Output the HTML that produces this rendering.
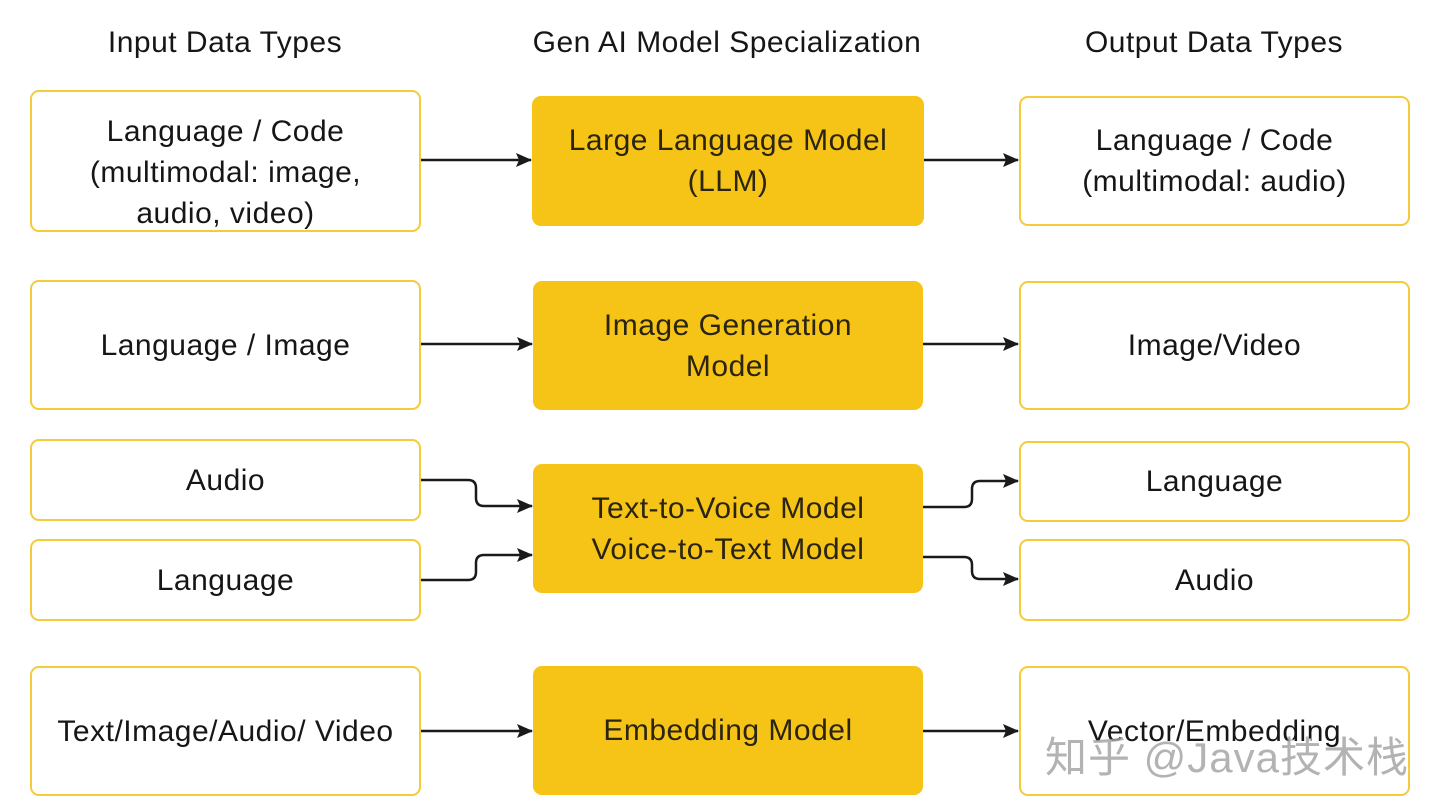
<!DOCTYPE html>
<html><head><meta charset="utf-8"><style>
body{margin:0;width:1440px;height:812px;background:#fff;position:relative;overflow:hidden;font-family:"Liberation Sans","Noto Sans CJK SC",sans-serif;color:#161616}
.h{position:absolute;top:26px;font-size:30px;text-align:center;width:500px;letter-spacing:0.5px}
.b{position:absolute;box-sizing:border-box;border:2px solid #f4cb3a;border-radius:9px;display:flex;align-items:center;justify-content:center;text-align:center;font-size:30px;line-height:41px;letter-spacing:0.5px;background:#fff}
.y{background:#f6c416;border:none;color:#2b2410}
svg{position:absolute;left:0;top:0}
.wm{position:absolute;left:1045px;top:724px;font-size:42px;color:rgba(160,160,160,0.8);letter-spacing:1px;text-shadow:2px 2px 0 rgba(255,255,255,.8)}
</style></head><body>
<div class="h" style="left:-25px">Input Data Types</div>
<div class="h" style="left:477px">Gen AI Model Specialization</div>
<div class="h" style="left:964px">Output Data Types</div>

<div class="b" style="left:30px;top:90px;width:391px;height:142px;padding-top:22px">Language / Code<br>(multimodal: image,<br>audio, video)</div>
<div class="b" style="left:30px;top:280px;width:391px;height:130px">Language / Image</div>
<div class="b" style="left:30px;top:439px;width:391px;height:82px">Audio</div>
<div class="b" style="left:30px;top:539px;width:391px;height:82px">Language</div>
<div class="b" style="left:30px;top:666px;width:391px;height:130px">Text/Image/Audio/ Video</div>

<div class="b y" style="left:532px;top:96px;width:392px;height:130px">Large Language Model<br>(LLM)</div>
<div class="b y" style="left:533px;top:281px;width:390px;height:129px">Image Generation<br>Model</div>
<div class="b y" style="left:533px;top:464px;width:390px;height:129px">Text-to-Voice Model<br>Voice-to-Text Model</div>
<div class="b y" style="left:533px;top:666px;width:390px;height:129px">Embedding Model</div>

<div class="b" style="left:1019px;top:96px;width:391px;height:130px">Language / Code<br>(multimodal: audio)</div>
<div class="b" style="left:1019px;top:281px;width:391px;height:129px">Image/Video</div>
<div class="b" style="left:1019px;top:441px;width:391px;height:81px">Language</div>
<div class="b" style="left:1019px;top:539px;width:391px;height:82px">Audio</div>
<div class="b" style="left:1019px;top:666px;width:391px;height:130px">Vector/Embedding</div>

<svg width="1440" height="812">
<defs><marker id="a" markerWidth="16" markerHeight="16" refX="15" refY="8" orient="auto" markerUnits="userSpaceOnUse" viewBox="0 0 16 16"><path d="M0,1 L16,8 L0,15 L3,8z" fill="#1a1a1a"/></marker></defs>
<g stroke="#1a1a1a" stroke-width="2.5" fill="none" marker-end="url(#a)">
<path d="M421,160 H531"/>
<path d="M924,160 H1018"/>
<path d="M421,344 H532"/>
<path d="M923,344 H1018"/>
<path d="M421,480 H468 Q476,480 476,488 V498 Q476,506 484,506 H532"/>
<path d="M421,580 H468 Q476,580 476,572 V563 Q476,555 484,555 H532"/>
<path d="M923,507 H964 Q972,507 972,499 V489 Q972,481 980,481 H1018"/>
<path d="M923,557 H964 Q972,557 972,565 V571 Q972,579 980,579 H1018"/>
<path d="M421,731 H532"/>
<path d="M923,731 H1018"/>
</g></svg>
<div class="wm">知乎 @Java技术栈</div>
</body></html>
